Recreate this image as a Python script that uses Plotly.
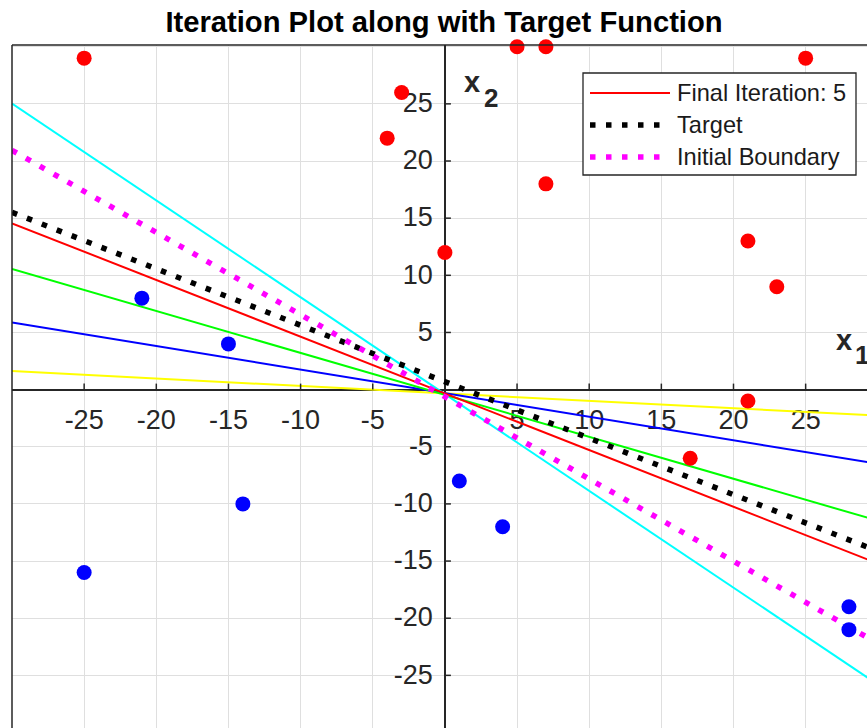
import plotly.graph_objects as go

# ---------------- data ----------------
pos_x = [-25, -4, -3, 0, 5, 7, 7, 21, 23, 25, 21, 17]
pos_y = [29, 22, 26, 12, 30, 30, 18, 13, 9, 29, -1, -6]
neg_x = [-21, -15, -14, -25, 1, 4, 28, 28]
neg_y = [8, 4, -10, -16, -8, -12, -19, -21]

# iteration boundaries (slope, intercept) in x2 = m*x1 + b form
iter_colors = ["#00ffff", "#ffff00", "#0000ff", "#00ff00", "#ff0000"]
iter_slopes = [-0.847, -0.065, -0.206, -0.367, -0.496]
iter_intercepts = [-0.39, -0.33, -0.31, -0.46, -0.33]

target_slope, target_intercept = -0.494, 0.69
initial_slope, initial_intercept = -0.719, -0.63

x_limits = [-30, 30]
tick_vals = [-30, -25, -20, -15, -10, -5, 0, 5, 10, 15, 20, 25, 30]
tick_labels = ["-25", "-20", "-15", "-10", "-5", "5", "10", "15", "20", "25"]
label_vals = [-25, -20, -15, -10, -5, 5, 10, 15, 20, 25]

legend_names = ["Final Iteration: 5", "Target", "Initial Boundary"]
title_text = "Iteration Plot along with Target Function"

# ---------------- layout constants ----------------
W, H = 867, 728
ML, MR, MT, MB = 12, 0, 45, 0
XU = 14.43
YU = 11.43
PW = W - ML - MR
PH = H - MT - MB
XR = [-30, -30 + PW / XU]
YR = [30.15 - PH / YU, 30.15]
FONT = "Liberation Sans"
AX = "#262626"


def px2paper_x(px):
    return (px - ML) / PW


def px2paper_y(py):
    return 1 - (py - MT) / PH


fig = go.Figure()

# tick labels (drawn under lines, like the original)
fig.add_trace(go.Scatter(
    x=label_vals, y=[-(19.0 / YU)] * len(label_vals), mode="text",
    text=tick_labels, textposition="bottom center",
    textfont=dict(family=FONT, size=27, color=AX),
    hoverinfo="skip", showlegend=False, cliponaxis=False))
fig.add_trace(go.Scatter(
    x=[-(12.0 / XU)] * len(label_vals), y=[v - 1.5 / YU for v in label_vals], mode="text",
    text=tick_labels, textposition="middle left",
    textfont=dict(family=FONT, size=27, color=AX),
    hoverinfo="skip", showlegend=False, cliponaxis=False))

# iteration lines
for c, m, b in zip(iter_colors, iter_slopes, iter_intercepts):
    fig.add_trace(go.Scatter(
        x=x_limits, y=[m * v + b for v in x_limits], mode="lines",
        line=dict(color=c, width=2), showlegend=False, hoverinfo="skip"))

# target & initial
fig.add_trace(go.Scatter(
    x=x_limits, y=[target_slope * v + target_intercept for v in x_limits], mode="lines",
    line=dict(color="#000000", width=5.5, dash="5.5px,10.5px"), showlegend=False))
fig.add_trace(go.Scatter(
    x=x_limits, y=[initial_slope * v + initial_intercept for v in x_limits], mode="lines",
    line=dict(color="#ff00ff", width=5.5, dash="5.5px,10.5px"), showlegend=False))

# points
fig.add_trace(go.Scatter(
    x=pos_x, y=pos_y, mode="markers",
    marker=dict(color="#ff0000", size=15, line=dict(width=0)),
    showlegend=False, cliponaxis=False))
fig.add_trace(go.Scatter(
    x=neg_x, y=neg_y, mode="markers",
    marker=dict(color="#0000ff", size=15, line=dict(width=0)),
    showlegend=False, cliponaxis=False))

shapes = []
# tick marks on origin axes
for v in label_vals:
    shapes.append(dict(type="line", xref="x", yref="y", ysizemode="pixel", yanchor=0,
                       x0=v, x1=v, y0=0, y1=6, line=dict(color=AX, width=1.5)))
    shapes.append(dict(type="line", yref="y", xref="x", xsizemode="pixel", xanchor=0,
                       y0=v, y1=v, x0=0, x1=6, line=dict(color=AX, width=1.5)))
# box top & left
shapes.append(dict(type="line", xref="paper", yref="paper", x0=0, x1=1, y0=1, y1=1,
                   line=dict(color=AX, width=1.5)))
shapes.append(dict(type="line", xref="paper", yref="paper", x0=0, x1=0, y0=0, y1=1,
                   line=dict(color=AX, width=1.5)))

# custom legend
lx0, lx1 = px2paper_x(583), px2paper_x(856)
ly0, ly1 = px2paper_y(175), px2paper_y(73)
shapes.append(dict(type="rect", xref="paper", yref="paper", x0=lx0, x1=lx1, y0=ly0, y1=ly1,
                   fillcolor="white", line=dict(color=AX, width=1.3), layer="above"))
row_y = [93, 125, 157]
leg_styles = [dict(color="#ff0000", width=2),
              dict(color="#000000", width=5.5, dash="5.5px,10.5px"),
              dict(color="#ff00ff", width=5.5, dash="5.5px,10.5px")]
annotations = []
for ry, st, name in zip(row_y, leg_styles, legend_names):
    shapes.append(dict(type="line", xref="paper", yref="paper",
                       x0=px2paper_x(590), x1=px2paper_x(670),
                       y0=px2paper_y(ry), y1=px2paper_y(ry), line=st, layer="above"))
    annotations.append(dict(text=name, xref="paper", yref="paper",
                            x=px2paper_x(675), y=px2paper_y(ry), xanchor="left", yanchor="middle",
                            showarrow=False, font=dict(family=FONT, size=23.6, color="#1a1a1a")))

# axis labels: main letter + lowered subscript
for txt, px, py, fs in [("x", 462, 82, 29), ("2", 482, 98, 26),
                        ("x", 834, 340, 29), ("1", 853, 355, 26)]:
    annotations.append(dict(text="<b>" + txt + "</b>", xref="paper", yref="paper",
                            x=px2paper_x(px), y=px2paper_y(py), xanchor="left", yanchor="middle",
                            showarrow=False, font=dict(family=FONT, size=fs, color=AX)))

fig.update_layout(
    width=W, height=H,
    margin=dict(l=ML, r=MR, t=MT, b=MB),
    paper_bgcolor="white", plot_bgcolor="white",
    title=dict(text=title_text, x=444 / W, y=1 - 22 / H,
               xref="container", yref="container",
               xanchor="center", yanchor="middle",
               font=dict(family=FONT, size=29.2, color="#000000", weight="bold")),
    xaxis=dict(range=XR, tickvals=tick_vals, showticklabels=False, ticks="",
               showgrid=True, gridcolor="#dfdfdf", gridwidth=1.3,
               zeroline=True, zerolinecolor=AX, zerolinewidth=1.5, showline=False),
    yaxis=dict(range=YR, tickvals=tick_vals, showticklabels=False, ticks="",
               showgrid=True, gridcolor="#dfdfdf", gridwidth=1.3,
               zeroline=True, zerolinecolor=AX, zerolinewidth=1.5, showline=False),
    shapes=shapes, annotations=annotations, showlegend=False,
)

fig.write_html("out.html",
               config={"displayModeBar": False},
               post_script="document.body.style.margin='0';document.body.style.overflow='hidden';")
